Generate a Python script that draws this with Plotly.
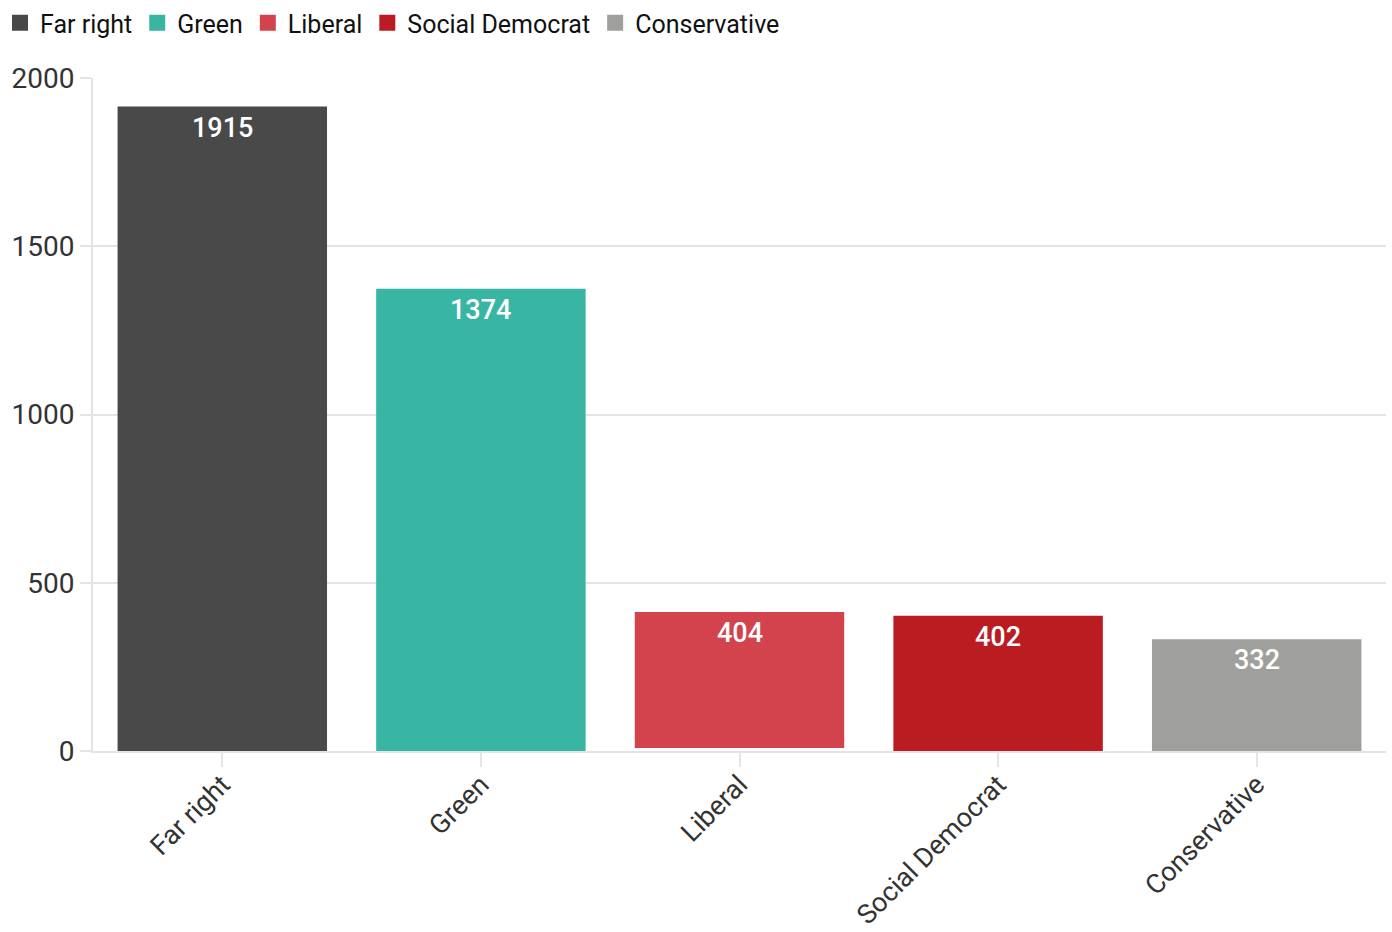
import plotly.graph_objects as go

categories = ["Far right", "Green", "Liberal", "Social Democrat", "Conservative"]
values = [1915, 1374, 404, 402, 332]
colors = ["#494949", "#39b5a4", "#d2434d", "#bb1c22", "#9f9f9e"]
bases = [0, 0, 9, 0, 0]

fig = go.Figure()
fig.add_trace(go.Bar(
    x=categories, y=values, base=bases,
    marker=dict(color=colors, line=dict(width=0)),
    showlegend=False, hoverinfo="x+y",
))
# legend entries
for c, col in zip(categories, colors):
    fig.add_trace(go.Scatter(
        x=[None], y=[None], mode="markers", name=c,
        marker=dict(symbol="square", size=18, color=col),
    ))

for c, v, b in zip(categories, values, bases):
    fig.add_annotation(
        x=c, y=v + b, text=str(v), showarrow=False,
        yanchor="top", yshift=-3,
        font=dict(family="Roboto", size=27, color="white", weight=500),
    )

fig.update_layout(
    width=1392, height=932,
    margin=dict(l=93, r=6, t=78, b=181, autoexpand=False),
    paper_bgcolor="white", plot_bgcolor="white",
    font=dict(family="Roboto", size=26, color="#333333"),
    bargap=0.19,
    legend=dict(
        orientation="h", x=0, y=1, xref="container", yref="container",
        xanchor="left", yanchor="top",
        font=dict(family="Roboto", size=25, color="#111111"),
        itemwidth=30, tracegroupgap=0, itemsizing="trace",
    ),
    xaxis=dict(
        type="category", tickangle=-45, automargin=False,
        showline=True, linecolor="#e4e4e4", linewidth=2,
        ticks="outside", ticklen=14, tickcolor="#e4e4e4", tickwidth=2,
        ticklabelstandoff=-9,
        showgrid=False, tickfont=dict(size=27, color="#333333"),
    ),
    yaxis=dict(
        range=[0, 2000], tickvals=[0, 500, 1000, 1500, 2000], automargin=False,
        showline=True, linecolor="#e4e4e4", linewidth=2,
        gridcolor="#e4e4e4", gridwidth=2,
        ticks="outside", ticklen=11, tickcolor="#e4e4e4", tickwidth=2,
        zeroline=False, tickfont=dict(size=28, color="#333333"),
    ),
)

fig.write_html("out.html")
